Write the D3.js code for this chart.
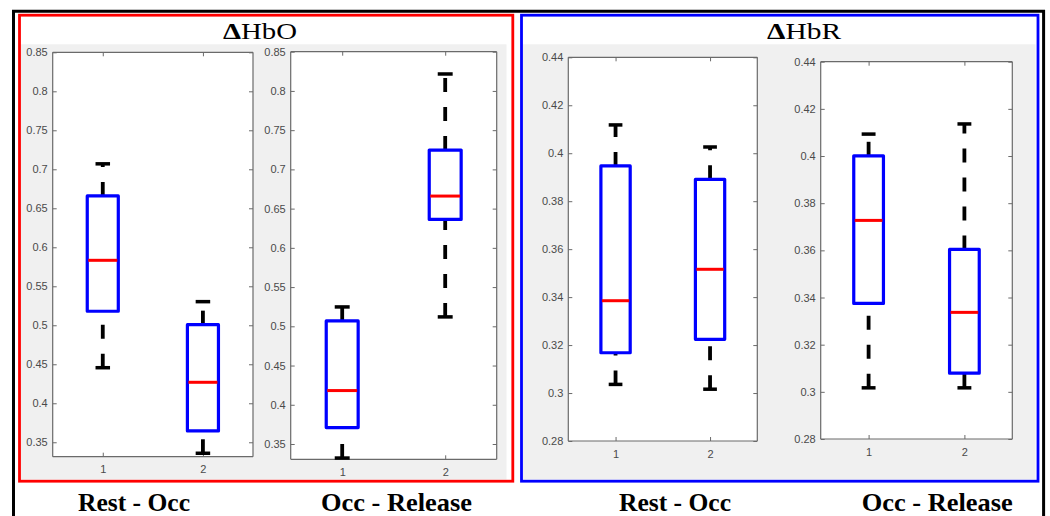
<!DOCTYPE html>
<html>
<head>
<meta charset="utf-8">
<script src="https://cdn.jsdelivr.net/npm/d3@7"></script>
<style>
  html, body { margin: 0; padding: 0; background: #ffffff; }
  svg { display: block; }
</style>
</head>
<body>
<svg id="chart" width="1050" height="516"></svg>
<script>
// ---------------- DATA ----------------
const groupTitles = ["HbO", "HbR"];
const conditionLabels = ["Rest - Occ", "Occ - Release", "Rest - Occ", "Occ - Release"];
const xTickLabels = ["1", "2"];
const hboYTicks = [0.35, 0.4, 0.45, 0.5, 0.55, 0.6, 0.65, 0.7, 0.75, 0.8, 0.85];
const hbrYTicks = [0.28, 0.3, 0.32, 0.34, 0.36, 0.38, 0.4, 0.42, 0.44];
const hboRestOccLimits = [0.3315, 0.85];
const hboOccRelLimits = [0.3305, 0.85];
const hbrLimits = [0.28, 0.44];
// five-number summaries per box: [lower whisker, q1, median, q3, upper whisker]
const hboRestOcc = [[0.4456, 0.518, 0.5833, 0.6658, 0.707], [0.3359, 0.3645, 0.4269, 0.5008, 0.5303]];
const hboOccRel  = [[0.3321, 0.3709, 0.4181, 0.5069, 0.5247], [0.512, 0.6362, 0.666, 0.7246, 0.8216]];
const hbrRestOcc = [[0.3036, 0.3168, 0.3385, 0.3947, 0.4118], [0.3016, 0.3224, 0.3516, 0.3891, 0.4026]];
const hbrOccRel  = [[0.3017, 0.3375, 0.3727, 0.4001, 0.4093], [0.3017, 0.3079, 0.3337, 0.3604, 0.4136]];

// ---------------- LAYOUT ----------------
const svg = d3.select("#chart");
const subplots = [
  { data: hboRestOcc, ticks: hboYTicks, lim: hboRestOccLimits, fmt: d3.format(".2~f"), l: 52.7, t: 52.3, r: 253, b: 456.7 },
  { data: hboOccRel,  ticks: hboYTicks, lim: hboOccRelLimits,  fmt: d3.format(".2~f"), l: 290.7, t: 51.7, r: 496.7, b: 459.3 },
  { data: hbrRestOcc, ticks: hbrYTicks, lim: hbrLimits, fmt: d3.format(".2~f"), l: 568.3, t: 57.3, r: 757.3, b: 441 },
  { data: hbrOccRel,  ticks: hbrYTicks, lim: hbrLimits, fmt: d3.format(".2~f"), l: 820.7, t: 61.7, r: 1012.3, b: 439 }
];

const groups = [
  { color: "#ff0000", x0: 19.5, x1: 512.8, grayX0: 21, grayX1: 506.5, titleX: 260 },
  { color: "#0000ff", x0: 521.5, x1: 1038, grayX0: 523, grayX1: 1035.5, titleX: 804 }
];

// outer black frame
svg.append("path")
  .attr("d", "M13.5,520 L13.5,11.3 L1043.6,11.3 L1043.6,520")
  .attr("fill", "none").attr("stroke", "#000").attr("stroke-width", 3);

groups.forEach((g, i) => {
  svg.append("rect")
    .attr("x", g.grayX0).attr("y", 44.3)
    .attr("width", g.grayX1 - g.grayX0).attr("height", 479.5 - 44.3)
    .attr("fill", "#f0f0f0");
  svg.append("rect")
    .attr("x", g.x0).attr("y", 15.2)
    .attr("width", g.x1 - g.x0).attr("height", 481.2 - 15.2)
    .attr("fill", "none").attr("stroke", g.color).attr("stroke-width", 2.8);
  const t = svg.append("text")
    .attr("x", g.titleX).attr("y", 39)
    .attr("text-anchor", "middle")
    .attr("font-family", "'Liberation Serif', 'DejaVu Serif', serif")
    .attr("font-size", 24).attr("fill", "#000")
    .attr("textLength", 74).attr("lengthAdjust", "spacingAndGlyphs");
  t.append("tspan").attr("font-weight", "bold").text("Δ");
  t.append("tspan").text(groupTitles[i]);
});

// condition labels
const labelX = [134, 396.5, 675, 937.2];
const labelW = [112, 151, 112, 151];
conditionLabels.forEach((lab, i) => {
  svg.append("text")
    .attr("x", labelX[i]).attr("y", 510.5)
    .attr("text-anchor", "middle")
    .attr("font-family", "'Liberation Serif', 'DejaVu Serif', serif")
    .attr("font-weight", "bold")
    .attr("font-size", 25).attr("fill", "#000")
    .attr("textLength", labelW[i]).attr("lengthAdjust", "spacingAndGlyphs")
    .text(lab);
});

// subplots
subplots.forEach(sp => {
  const x = d3.scaleLinear().domain([0.5, 2.5]).range([sp.l, sp.r]);
  const y = d3.scaleLinear().domain(sp.lim).range([sp.b, sp.t]);
  const unit = x(1) - x(0);
  const g = svg.append("g");

  g.append("rect")
    .attr("x", sp.l).attr("y", sp.t)
    .attr("width", sp.r - sp.l).attr("height", sp.b - sp.t)
    .attr("fill", "#ffffff");

  const tickLen = 4;
  const tickColor = "#6a6a6a";
  const labelColor = "#4a4a4a";
  const fontFam = "'Liberation Sans', Arial, sans-serif";

  const yAxisL = d3.axisLeft(y).tickValues(sp.ticks).tickSize(-tickLen).tickPadding(5).tickFormat(sp.fmt);
  const gl = g.append("g").attr("transform", `translate(${sp.l},0)`).call(yAxisL);
  const yAxisR = d3.axisRight(y).tickValues(sp.ticks).tickSize(-tickLen).tickFormat("");
  const gr = g.append("g").attr("transform", `translate(${sp.r},0)`).call(yAxisR);
  const xAxisB = d3.axisBottom(x).tickValues([1, 2]).tickSize(-tickLen).tickPadding(9)
    .tickFormat((d, i) => xTickLabels[i]);
  const gb = g.append("g").attr("transform", `translate(0,${sp.b})`).call(xAxisB);
  const xAxisT = d3.axisTop(x).tickValues([1, 2]).tickSize(-tickLen).tickFormat("");
  const gt = g.append("g").attr("transform", `translate(0,${sp.t})`).call(xAxisT);
  [gl, gr, gb, gt].forEach(a => {
    a.select(".domain").attr("stroke", tickColor).attr("stroke-width", 1.2);
    a.selectAll(".tick line").attr("stroke", tickColor).attr("stroke-width", 1);
    a.selectAll(".tick text").attr("fill", labelColor).attr("font-size", 11).attr("font-family", fontFam);
  });
  [gl, gr, gb, gt].forEach(a => a.select(".domain").attr("d", function() {
    const isY = a === gl || a === gr;
    return isY ? `M0,${sp.b}V${sp.t}` : `M${sp.l},0H${sp.r}`;
  }));

  const boxW = 0.31 * unit;
  const capW = 0.145 * unit;

  sp.data.forEach((s, i) => {
    const cx = x(i + 1);
    const [lo, q1, med, q3, hi] = s;
    g.append("line")
      .attr("x1", cx).attr("x2", cx).attr("y1", y(lo)).attr("y2", y(q1))
      .attr("stroke", "#000").attr("stroke-width", 3.8).attr("stroke-dasharray", "14 15");
    g.append("line")
      .attr("x1", cx).attr("x2", cx).attr("y1", y(q3)).attr("y2", y(hi))
      .attr("stroke", "#000").attr("stroke-width", 3.8).attr("stroke-dasharray", "14 15");
    [lo, hi].forEach(v => {
      g.append("line")
        .attr("x1", cx - capW / 2).attr("x2", cx + capW / 2)
        .attr("y1", y(v)).attr("y2", y(v))
        .attr("stroke", "#000").attr("stroke-width", 3.5);
    });
    g.append("rect")
      .attr("x", cx - boxW / 2).attr("y", y(q3))
      .attr("width", boxW).attr("height", y(q1) - y(q3))
      .attr("fill", "none").attr("stroke", "#0000ff").attr("stroke-width", 3.2)
      .attr("stroke-linejoin", "round");
    g.append("line")
      .attr("x1", cx - boxW / 2 + 1).attr("x2", cx + boxW / 2 - 1)
      .attr("y1", y(med)).attr("y2", y(med))
      .attr("stroke", "#ff0000").attr("stroke-width", 3);
  });
});
</script>
</body>
</html>
